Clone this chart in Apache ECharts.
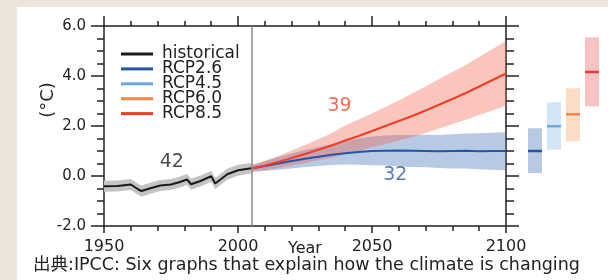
<!DOCTYPE html>
<html>
<head>
<meta charset="utf-8">
<script src="https://cdn.jsdelivr.net/npm/echarts@6/dist/echarts.min.js"></script>
<style>
html, body { margin: 0; padding: 0; background: #ece5dc; }
#wrap { position: relative; width: 608px; height: 280px; }
#panel { position: absolute; left: 17px; top: 7px; right: 0; bottom: 0; background: #fff; }
#chart { position: absolute; left: 0; top: 0; width: 608px; height: 280px; }
</style>
</head>
<body>
<div id="wrap">
  <div id="panel"></div>
  <div id="chart"></div>
</div>
<script>
// 観測（historical）
const histYears = [1950, 1955, 1960, 1963, 1964, 1967, 1971, 1975, 1978, 1981, 1982.5, 1986, 1990, 1991.5, 1996, 2000, 2005];
const histMean  = [-0.41, -0.40, -0.34, -0.55, -0.60, -0.50, -0.38, -0.34, -0.25, -0.14, -0.33, -0.20, -0.01, -0.30, 0.07, 0.23, 0.31];
const histLow   = [-0.63, -0.62, -0.56, -0.77, -0.83, -0.72, -0.60, -0.56, -0.47, -0.36, -0.55, -0.42, -0.23, -0.52, -0.15, 0.01, 0.10];
const histHigh  = [-0.19, -0.18, -0.12, -0.33, -0.38, -0.28, -0.16, -0.12, -0.03, 0.08, -0.11, 0.02, 0.21, -0.08, 0.29, 0.45, 0.52];

// 予測（RCP2.6 / RCP8.5）
const rcpYears  = [2005, 2010, 2015, 2020, 2025, 2030, 2035, 2040, 2045, 2050, 2055, 2060, 2065, 2070, 2075, 2080, 2085, 2090, 2095, 2100];
const rcp26Mean = [0.30, 0.40, 0.50, 0.60, 0.69, 0.77, 0.85, 0.91, 0.96, 1.00, 1.01, 1.02, 1.01, 1.00, 0.99, 1.00, 1.01, 0.99, 1.00, 1.00];
const rcp26Low  = [0.17, 0.20, 0.25, 0.30, 0.36, 0.40, 0.44, 0.46, 0.45, 0.43, 0.42, 0.38, 0.36, 0.35, 0.32, 0.30, 0.30, 0.27, 0.25, 0.23];
const rcp26High = [0.43, 0.60, 0.76, 0.90, 1.04, 1.16, 1.28, 1.40, 1.50, 1.58, 1.62, 1.64, 1.64, 1.65, 1.64, 1.67, 1.70, 1.71, 1.73, 1.75];
const rcp85Mean = [0.30, 0.42, 0.56, 0.72, 0.88, 1.05, 1.22, 1.42, 1.60, 1.80, 2.00, 2.20, 2.40, 2.62, 2.85, 3.08, 3.32, 3.58, 3.84, 4.10];
const rcp85Low  = [0.17, 0.24, 0.32, 0.42, 0.52, 0.63, 0.74, 0.86, 1.00, 1.15, 1.28, 1.42, 1.56, 1.72, 1.90, 2.08, 2.25, 2.44, 2.62, 2.82];
const rcp85High = [0.43, 0.60, 0.80, 1.02, 1.24, 1.47, 1.72, 2.02, 2.26, 2.50, 2.76, 3.02, 3.30, 3.58, 3.88, 4.16, 4.44, 4.76, 5.08, 5.41];

// 2081-2100 平均の幅（右側の棒）
const sideNames = ['RCP2.6', 'RCP4.5', 'RCP6.0', 'RCP8.5'];
const sideLow   = [0.12, 1.05, 1.39, 2.79];
const sideHigh  = [1.91, 2.95, 3.51, 5.55];
const sideMean  = [1.00, 1.99, 2.47, 4.16];

// 注記（モデル数）
const noteText = ['42', '39', '32'];
const noteX    = [1975.3, 2037.9, 2058.7];
const noteY    = [0.57, 2.80, 0.02];

// 目盛りラベル
const xLabels = ['1950', '2000', '2050', '2100'];
const yLabels = ['-2.0', '0.0', '2.0', '4.0', '6.0'];

const FONT = 'DejaVu Sans';
const AXIS = '#222';
const colors = {
  historical: '#1a1a1a',
  'RCP2.6': '#2456a5',
  'RCP4.5': '#6fa8dc',
  'RCP6.0': '#f7884a',
  'RCP8.5': '#f03e26'
};
const sideFill = ['#b8c9e3', '#d4e5f6', '#fddcc5', '#f8c3c3'];
const sideLine = ['#2456a5', '#6fa8dc', '#f7884a', '#ee3a3a'];
const noteColor = ['#1e1e1e', '#f04a2e', '#2a5aa8'];

const zip = (xs, ys) => xs.map((x, i) => [x, ys[i]]);

// 帯（不確実性の範囲）をポリゴンで描く
function band(years, low, high, fill) {
  return {
    type: 'custom',
    silent: true,
    z: 1,
    data: years.map((y, i) => [y, low[i], high[i]]),
    renderItem: (params, api) => {
      if (params.dataIndex !== 0) return null;
      const pts = [];
      years.forEach((y, i) => pts.push(api.coord([y, high[i]])));
      for (let i = years.length - 1; i >= 0; i--) pts.push(api.coord([years[i], low[i]]));
      return { type: 'polygon', shape: { points: pts }, style: { fill: fill } };
    }
  };
}

function line(name, data) {
  return {
    name: name,
    type: 'line',
    data: data,
    showSymbol: false,
    symbol: 'none',
    z: 3,
    lineStyle: { color: colors[name], width: 2 },
    itemStyle: { color: colors[name] }
  };
}

const tickStyle = { color: AXIS, width: 1.5 };

const chart = echarts.init(document.getElementById('chart'));
chart.setOption({
  backgroundColor: 'transparent',
  animation: false,
  grid: [
    { left: 104, top: 26, width: 402, height: 200 },
    { left: 525.5, top: 26, width: 76, height: 200 }
  ],
  legend: {
    left: 116,
    top: 40.5,
    orient: 'vertical',
    icon: 'rect',
    itemWidth: 32,
    itemHeight: 3,
    itemGap: -2.1,
    selectedMode: false,
    data: ['historical', 'RCP2.6', 'RCP4.5', 'RCP6.0', 'RCP8.5'],
    textStyle: { fontFamily: FONT, fontSize: 17, color: '#222', lineHeight: 15, padding: [0, 0, 0, 4] }
  },
  xAxis: [
    {
      type: 'value', gridIndex: 0, position: 'bottom', min: 1950, max: 2100, interval: 50,
      name: 'Year', nameLocation: 'middle', nameGap: 15, nameMoveOverlap: false,
      nameTextStyle: { fontFamily: FONT, fontSize: 16, color: '#222' },
      axisLine: { show: true, onZero: false, lineStyle: tickStyle },
      axisTick: { show: true, length: 7, lineStyle: tickStyle },
      minorTick: { show: true, splitNumber: 5, length: 5, lineStyle: tickStyle },
      axisLabel: {
        margin: 13, fontFamily: FONT, fontSize: 16, color: '#222',
        formatter: v => xLabels[Math.round((v - 1950) / 50)]
      },
      splitLine: { show: false }
    },
    {
      type: 'value', gridIndex: 0, position: 'top', min: 1950, max: 2100, interval: 50,
      axisLine: { show: true, onZero: false, lineStyle: tickStyle },
      axisTick: { show: true, length: 10, lineStyle: tickStyle },
      minorTick: { show: true, splitNumber: 5, length: 5, lineStyle: tickStyle },
      axisLabel: { show: false },
      splitLine: { show: false }
    },
    { type: 'category', gridIndex: 1, data: sideNames, show: false }
  ],
  yAxis: [
    {
      type: 'value', gridIndex: 0, position: 'left', min: -2, max: 6, interval: 2,
      axisLine: { show: true, onZero: false, lineStyle: tickStyle },
      axisTick: { show: true, length: 13, lineStyle: tickStyle },
      minorTick: { show: true, splitNumber: 4, length: 7, lineStyle: tickStyle },
      axisLabel: {
        margin: 18, fontFamily: FONT, fontSize: 15, color: '#222',
        formatter: v => yLabels[Math.round((v + 2) / 2)]
      },
      splitLine: { show: false }
    },
    {
      type: 'value', gridIndex: 0, position: 'right', min: -2, max: 6, interval: 2,
      axisLine: { show: true, onZero: false, lineStyle: tickStyle },
      axisTick: { show: true, length: 13, lineStyle: tickStyle },
      minorTick: { show: true, splitNumber: 4, length: 8, lineStyle: tickStyle },
      axisLabel: { show: false },
      splitLine: { show: false }
    },
    { type: 'value', gridIndex: 1, min: -2, max: 6, show: false }
  ],
  graphic: [
    {
      type: 'text', x: 48, y: 100, rotation: Math.PI / 2,
      style: { text: '(°C)', font: '18px "DejaVu Sans"', fill: '#222', align: 'center', verticalAlign: 'middle' }
    },
    {
      type: 'text', left: 33, top: 257,
      style: { text: '出典:IPCC: Six graphs that explain how the climate is changing', font: '17.5px "DejaVu Sans", "Noto Sans CJK JP"', fill: '#222' }
    }
  ],
  series: [
    band(histYears, histLow, histHigh, '#c4c4c4'),
    band(rcpYears, rcp26Low, rcp26High, 'rgba(77,120,185,0.4)'),
    band(rcpYears, rcp85Low, rcp85High, 'rgba(238,89,66,0.35)'),
    Object.assign(line('historical', zip(histYears, histMean)), {
      markLine: {
        silent: true, symbol: 'none', label: { show: false },
        lineStyle: { color: '#888', width: 1.5, type: 'solid' },
        data: [{ xAxis: 2005 }]
      }
    }),
    line('RCP2.6', zip(rcpYears, rcp26Mean)),
    line('RCP4.5', []),
    line('RCP6.0', []),
    line('RCP8.5', zip(rcpYears, rcp85Mean)),
    {
      type: 'scatter',
      symbolSize: 1,
      itemStyle: { color: 'transparent' },
      silent: true,
      z: 5,
      data: noteText.map((t, i) => ({
        value: [noteX[i], noteY[i]],
        label: { show: true, position: 'inside', formatter: t, color: noteColor[i], fontFamily: FONT, fontSize: 19, textBorderWidth: 0 }
      }))
    },
    {
      type: 'custom',
      xAxisIndex: 2,
      yAxisIndex: 2,
      silent: true,
      data: sideNames.map((n, i) => [i, sideLow[i], sideHigh[i], sideMean[i]]),
      renderItem: (params, api) => {
        const i = api.value(0);
        const top = api.coord([i, api.value(2)]);
        const bot = api.coord([i, api.value(1)]);
        const mid = api.coord([i, api.value(3)]);
        const w = api.size([1, 0])[0] * 0.74;
        return {
          type: 'group',
          children: [
            { type: 'rect', shape: { x: top[0] - w / 2, y: top[1], width: w, height: bot[1] - top[1] }, style: { fill: sideFill[i] } },
            { type: 'rect', shape: { x: top[0] - w / 2, y: mid[1] - 1.25, width: w, height: 2.5 }, style: { fill: sideLine[i] } }
          ]
        };
      }
    }
  ]
});
</script>
</body>
</html>
